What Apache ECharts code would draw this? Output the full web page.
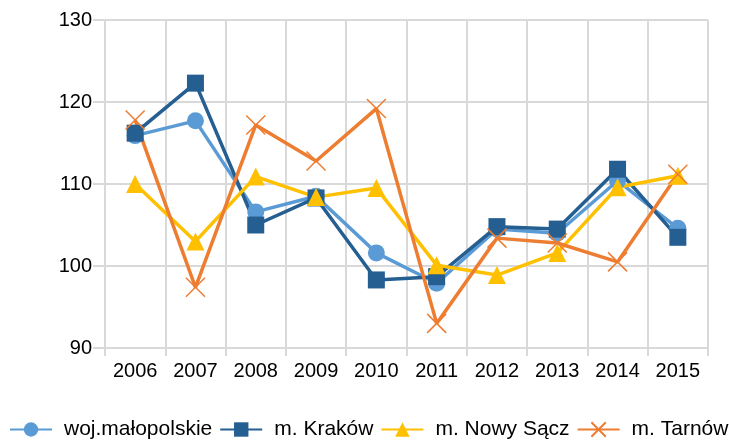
<!DOCTYPE html>
<html>
<head>
<meta charset="utf-8">
<script src="https://cdn.jsdelivr.net/npm/echarts@6/dist/echarts.min.js"></script>
<style>
  html, body { margin: 0; padding: 0; background: #fff; }
  #main { width: 729px; height: 441px; }
</style>
</head>
<body>
<div id="main"></div>
<script>
  const years = ["2006", "2007", "2008", "2009", "2010", "2011", "2012", "2013", "2014", "2015"];
  const malopolskie = [115.9, 117.7, 106.6, 108.5, 101.6, 97.9, 104.5, 104.0, 110.4, 104.6];
  const krakow = [116.2, 122.3, 105.0, 108.3, 98.3, 98.7, 104.8, 104.5, 111.8, 103.5];
  const nowySacz = [110.0, 103.0, 110.9, 108.4, 109.5, 100.1, 98.9, 101.6, 109.6, 111.0];
  const tarnow = [117.8, 97.4, 117.2, 112.8, 119.2, 93.0, 103.4, 102.8, 100.5, 111.2];

  const gridColor = "#d9d9d9";
  const font = "Liberation Sans, Arial, sans-serif";

  const myChart = echarts.init(document.getElementById("main"));

  // krzyzyk dla Tarnowa - sama sciezka, rysowana obrysem
  const cross = "path://M0,0L10,10M10,0L0,10";

  myChart.setOption({
    animation: false,
    grid: { left: 105, right: 21, top: 20, bottom: 93 },
    legend: {
      top: 419,
      left: 9,
      width: 720,
      padding: 0,
      itemWidth: 42,
      itemHeight: 18,
      itemGap: 7,
      textStyle: { fontFamily: font, fontSize: 21, color: "#000", padding: [0, 0, 0, 7] },
      data: ["woj.małopolskie", "m. Kraków", "m. Nowy Sącz", "m. Tarnów"],
    },
    xAxis: {
      type: "category",
      data: years,
      boundaryGap: true,
      axisLine: { lineStyle: { color: gridColor, width: 2 } },
      axisTick: { show: true, length: 8, lineStyle: { color: gridColor, width: 2 } },
      splitLine: { show: true, lineStyle: { color: gridColor, width: 2 } },
      axisLabel: { fontFamily: font, fontSize: 20, color: "#000", margin: 13 },
    },
    yAxis: {
      type: "value",
      min: 90,
      max: 130,
      interval: 10,
      axisLine: { show: true, lineStyle: { color: gridColor, width: 2 } },
      axisTick: { show: true, length: 12, lineStyle: { color: gridColor, width: 2 } },
      splitLine: { lineStyle: { color: gridColor, width: 2 } },
      axisLabel: { fontFamily: font, fontSize: 20, color: "#000", margin: 13 },
    },
    series: [
      {
        name: "woj.małopolskie",
        type: "line",
        data: malopolskie,
        symbol: "circle",
        symbolSize: 17,
        lineStyle: { color: "#5B9BD5", width: 3.5 },
        itemStyle: { color: "#5B9BD5" },
      },
      {
        name: "m. Kraków",
        type: "line",
        data: krakow,
        symbol: "rect",
        symbolSize: 17,
        lineStyle: { color: "#255E91", width: 3.5 },
        itemStyle: { color: "#255E91" },
      },
      {
        name: "m. Nowy Sącz",
        type: "line",
        data: nowySacz,
        symbol: "triangle",
        symbolSize: 18,
        lineStyle: { color: "#FFC000", width: 3.5 },
        itemStyle: { color: "#FFC000" },
      },
      {
        name: "m. Tarnów",
        type: "line",
        data: tarnow,
        symbol: cross,
        symbolSize: 19,
        lineStyle: { color: "#ED7D31", width: 3.5 },
        itemStyle: { color: "#ED7D31", borderColor: "#ED7D31", borderWidth: 1.5 },
      },
    ],
  });
</script>
</body>
</html>
